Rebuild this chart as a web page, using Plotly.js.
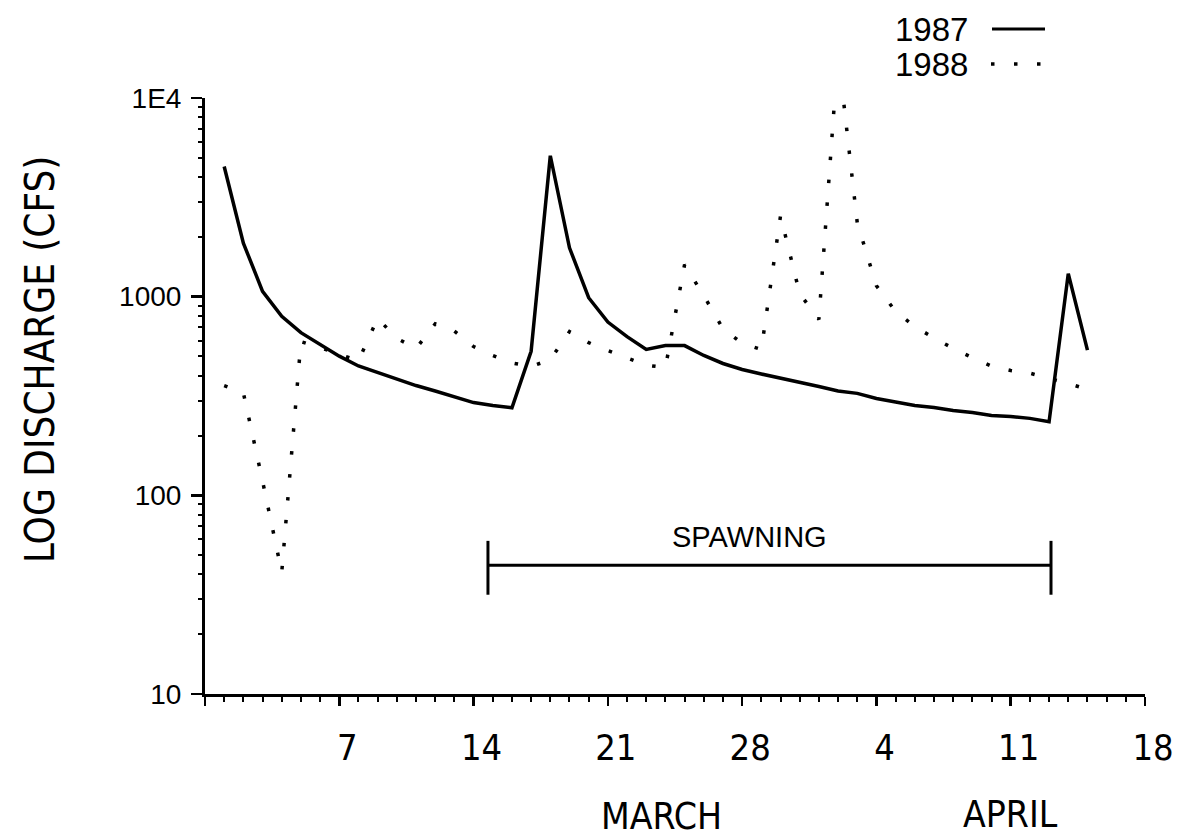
<!DOCTYPE html>
<html>
<head>
<meta charset="utf-8">
<script src="https://cdn.plot.ly/plotly-3.0.1.min.js"></script>
<style>
html,body{margin:0;padding:0;background:#ffffff;}
#chart{width:1186px;height:840px;}
</style>
</head>
<body>
<div id="chart"></div>
<script>
// Days counted from the end of February (day 1 = March 1, day 32 = April 1)
const days1987 = [1,2,3,4,5,6,7,8,9,10,11,12,13,14,15,16,17,18,19,20,21,22,23,24,25,26,27,28,29,30,31,32,33,34,35,36,37,38,39,40,41,42,43,44,45,46];
const discharge1987 = [4520,1860,1064,796,659,577,502,448,415,385,357,335,314,293,283,276,531,5120,1762,988,745,629,542,567,567,506,461,430,408,389,374,353,335,326,307,295,283,277,267,261,252,249,244,235,1306,538];

const days1988 = [1,2,3,4,5,6,7,8,9,10,11,12,13,14,15,16,17,18,19,20,21,22,23,24,25,26,27,28,29,30,31,32,33,34,35,36,37,38,39,40,41,42,43,44,45,46];
const discharge1988 = [357,328,118,41,594,555,512,476,778,617,548,730,671,561,506,464,445,482,667,587,535,492,452,440,1450,1011,690,582,542,2552,1035,769,17000,2356,1135,841,707,620,549,493,447,425,412,387,366,341];

const seriesNames = ['1987', '1988'];

const xTickDays = [0, 7, 14, 21, 28, 35, 42, 49];
const xTickLabels = ['', '7', '14', '21', '28', '4', '11', '18'];
const yTickValues = [10, 100, 1000, 10000];
const yTickLabels = ['10', '100', '1000', '1E4'];

const monthLabels = ['MARCH', 'APRIL'];
const monthLabelDays = [23.8, 42.0];

const spawningLabel = 'SPAWNING';
const spawningDays = [14.75, 44.1];
const spawningLevel = 44.5;
const spawningCapLow = 31.6;
const spawningCapHigh = 59;
const spawningLabelDay = 28.4;
const spawningLabelValue = 62;

const yAxisTitle = 'LOG DISCHARGE (CFS)';

const narrowFont = '"Liberation Sans Narrow", "DejaVu Sans Condensed", "Liberation Sans", Arial, sans-serif';
const plainFont = '"Liberation Sans", Arial, sans-serif';
const dotDash = '3.5px,19.5px';

const traces = [
  {
    x: days1987, y: discharge1987, name: seriesNames[0],
    type: 'scatter', mode: 'lines',
    line: {color: '#000000', width: 3.5},
    hoverinfo: 'x+y'
  },
  {
    x: days1988, y: discharge1988, name: seriesNames[1],
    type: 'scatter', mode: 'lines',
    line: {color: '#000000', width: 3.5, dash: dotDash},
    hoverinfo: 'x+y'
  },
  {
    x: spawningDays, y: [spawningLevel, spawningLevel],
    type: 'scatter', mode: 'lines',
    line: {color: '#000000', width: 3},
    hoverinfo: 'skip', showlegend: false
  },
  {
    x: [spawningDays[0], spawningDays[0], null, spawningDays[1], spawningDays[1]],
    y: [spawningCapLow, spawningCapHigh, null, spawningCapLow, spawningCapHigh],
    type: 'scatter', mode: 'lines',
    line: {color: '#000000', width: 3},
    hoverinfo: 'skip', showlegend: false
  }
];

const L = 205, R = 41, T = 98, B = 146;
const plotW = 1186 - L - R, plotH = 840 - T - B;
const px = v => (v - L) / plotW;
const py = v => (840 - B - v) / plotH;

const layout = {
  width: 1186, height: 840,
  margin: {l: L, r: R, t: T, b: B, pad: 0},
  paper_bgcolor: '#ffffff', plot_bgcolor: '#ffffff',
  showlegend: false,
  xaxis: {
    range: [0, 49],
    tickmode: 'array', tickvals: xTickDays, ticktext: xTickLabels,
    ticks: 'outside', ticklen: 9, tickwidth: 2.5, tickcolor: '#000',
    minor: {dtick: 1, ticks: 'outside', ticklen: 5, tickwidth: 2, tickcolor: '#000', showgrid: false},
    showline: true, linecolor: '#000', linewidth: 3,
    showgrid: false, zeroline: false,
    ticklabelstandoff: 11, ticklabelshift: 8,
    tickfont: {family: narrowFont, size: 36, color: '#000'}
  },
  yaxis: {
    type: 'log', range: [1, 4],
    tickmode: 'array', tickvals: yTickValues, ticktext: yTickLabels,
    ticks: 'outside', ticklen: 11, tickwidth: 2.5, tickcolor: '#000',
    minor: {dtick: 'D1', ticks: 'outside', ticklen: 4, tickwidth: 2, tickcolor: '#000', showgrid: false},
    showline: true, linecolor: '#000', linewidth: 3,
    showgrid: false, zeroline: false,
    ticklabelstandoff: 4,
    tickfont: {family: plainFont, size: 28, color: '#000'}
  },
  annotations: [
    {xref: 'paper', yref: 'paper', x: px(40), y: py(360), text: yAxisTitle, textangle: -90,
     showarrow: false, xanchor: 'center', yanchor: 'middle',
     font: {family: narrowFont, size: 40, color: '#000'}},
    {xref: 'x', yref: 'paper', x: monthLabelDays[0], y: py(816), text: monthLabels[0],
     showarrow: false, xanchor: 'center', yanchor: 'middle',
     font: {family: narrowFont, size: 37, color: '#000'}},
    {xref: 'x', yref: 'paper', x: monthLabelDays[1], y: py(814), text: monthLabels[1],
     showarrow: false, xanchor: 'center', yanchor: 'middle',
     font: {family: narrowFont, size: 37, color: '#000'}},
    {xref: 'x', yref: 'y', x: spawningLabelDay, y: Math.log10(spawningLabelValue), text: spawningLabel,
     showarrow: false, xanchor: 'center', yanchor: 'middle',
     font: {family: plainFont, size: 29, color: '#000'}},
    {xref: 'paper', yref: 'paper', x: px(970), y: py(29), text: seriesNames[0],
     showarrow: false, xanchor: 'right', yanchor: 'middle',
     font: {family: plainFont, size: 33, color: '#000'}},
    {xref: 'paper', yref: 'paper', x: px(970), y: py(64), text: seriesNames[1],
     showarrow: false, xanchor: 'right', yanchor: 'middle',
     font: {family: plainFont, size: 33, color: '#000'}}
  ],
  shapes: [
    {type: 'line', xref: 'paper', yref: 'paper', x0: px(992), x1: px(1045), y0: py(29), y1: py(29),
     line: {color: '#000', width: 3}},
    {type: 'line', xref: 'paper', yref: 'paper', x0: px(991), x1: px(1041), y0: py(64), y1: py(64),
     line: {color: '#000', width: 3.5, dash: dotDash}}
  ]
};

Plotly.newPlot('chart', traces, layout, {displayModeBar: false, staticPlot: true});
</script>
</body>
</html>
